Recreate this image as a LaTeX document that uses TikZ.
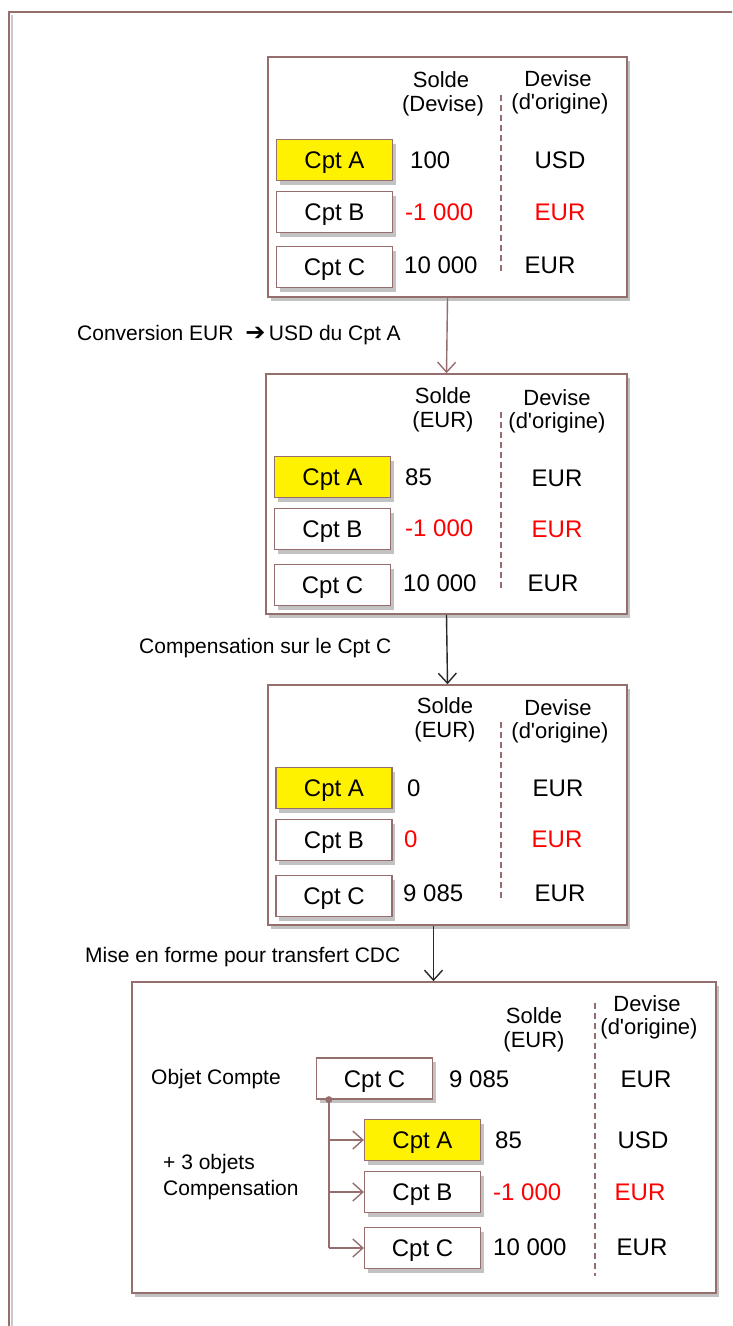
\documentclass[tikz,border=0pt]{standalone}
\usepackage{fontspec}
\setmainfont{Liberation Sans}
\newfontfamily\djv{DejaVu Sans}
\usetikzlibrary{arrows.meta,shadows}
\definecolor{bord}{RGB}{150,110,110}
\definecolor{shd}{RGB}{120,120,120}
\definecolor{dark}{RGB}{40,40,40}
\newcommand{\orig}{(d\textquotesingle origine)}
\tikzset{
  shad/.style={drop shadow={shadow xshift=3pt,shadow yshift=-4pt,fill=shd,opacity=0.45}},
  panel/.style={draw=bord,line width=1.6pt,fill=white,shad,inner sep=0pt},
  cpt/.style={draw=bord,line width=1.3pt,fill=white,minimum width=116pt,minimum height=41pt,inner sep=0pt,text height=17pt,text depth=0pt,font=\fontsize{24}{27}\selectfont,shad},
  cpta/.style={cpt,fill=yellow},
  hdr/.style={font=\fontsize{22}{25}\selectfont,inner sep=0pt},
  val/.style={font=\fontsize{24}{27}\selectfont,anchor=west,inner sep=0pt},
  cur/.style={font=\fontsize{24}{27}\selectfont,inner sep=0pt},
  red/.style={text=red},
  lbl/.style={font=\fontsize{21}{24}\selectfont,anchor=west,inner sep=0pt},
  sep/.style={draw=bord,line width=1.3pt,dash pattern=on 6pt off 4pt},
  flow/.style={line width=1.4pt,-{Straight Barb[length=10pt,width=18pt,line width=1.4pt]}},
  branch/.style={draw=bord,line width=1.6pt},
}
\begin{document}
\begin{tikzpicture}[x=1pt,y=-1pt]
\useasboundingbox (0,0) rectangle (732,1326);
\clip (0,0) rectangle (732,1326);
\fill[white] (0,0) rectangle (732,1326);
% outer frame
\draw[shd!40,line width=2pt] (12,15) -- (12,1340);
\draw[bord,line width=2pt] (9,1340) -- (9,12) -- (750,12);

% ===== Panel 1 =====
\node[panel,minimum width=359pt,minimum height=240pt] (p1) at (447.5,177) {};
\node[hdr] (p1s1) at (441,80) {Solde};
\node[hdr] (p1s2) at (443,106) {(Devise)};
\node[hdr] (p1d1) at (558,79) {Devise};
\node[hdr] (p1d2) at (560,104) {\orig};
\draw[sep] (501,95) -- (501,272);
\node[cpta] (p1a) at (334.5,160) {Cpt A};
\node[cpt] (p1b) at (334.5,212) {Cpt B};
\node[cpt] (p1c) at (334.5,267) {Cpt C};
\node[val] (p1av) at (410,160) {100};
\node[val,red] (p1bv) at (405,212) {-1 000};
\node[val] (p1cv) at (404,265) {10 000};
\node[cur] (p1ad) at (560,160) {USD};
\node[cur,red] (p1bd) at (560,212) {EUR};
\node[cur] (p1cd) at (550,265) {EUR};

% ===== Panel 2 =====
\node[panel,minimum width=361pt,minimum height=240pt] (p2) at (446.5,494) {};
\node[hdr] (p2s1) at (443,396) {Solde};
\node[hdr] (p2s2) at (443,422) {(EUR)};
\node[hdr] (p2d1) at (557,398) {Devise};
\node[hdr] (p2d2) at (557,423) {\orig};
\draw[sep] (501,412) -- (501,590);
\node[cpta] (p2a) at (332.5,477) {Cpt A};
\node[cpt] (p2b) at (332.5,529) {Cpt B};
\node[cpt] (p2c) at (332.5,585) {Cpt C};
\node[val] (p2av) at (405,477) {85};
\node[val,red] (p2bv) at (405,528) {-1 000};
\node[val] (p2cv) at (403,583) {10 000};
\node[cur] (p2ad) at (557,478) {EUR};
\node[cur,red] (p2bd) at (557,529) {EUR};
\node[cur] (p2cd) at (553,583) {EUR};

% ===== Panel 3 =====
\node[panel,minimum width=359pt,minimum height=240pt] (p3) at (447.5,805) {};
\node[hdr] (p3s1) at (445,706) {Solde};
\node[hdr] (p3s2) at (445,732) {(EUR)};
\node[hdr] (p3d1) at (558,708) {Devise};
\node[hdr] (p3d2) at (560,733) {\orig};
\draw[sep] (501,722) -- (501,900);
\node[cpta] (p3a) at (334,788) {Cpt A};
\node[cpt] (p3b) at (334,840) {Cpt B};
\node[cpt] (p3c) at (334,896) {Cpt C};
\node[val] (p3av) at (407,788) {0};
\node[val,red] (p3bv) at (404,839) {0};
\node[val] (p3cv) at (403,893) {9 085};
\node[cur] (p3ad) at (558,788) {EUR};
\node[cur,red] (p3bd) at (557,839) {EUR};
\node[cur] (p3cd) at (560,893) {EUR};

% ===== Panel 4 =====
\node[panel,minimum width=584pt,minimum height=311pt] (p4) at (424,1137.5) {};
\node[hdr] (p4s1) at (534,1016) {Solde};
\node[hdr] (p4s2) at (534,1042) {(EUR)};
\node[hdr] (p4d1) at (647,1004) {Devise};
\node[hdr] (p4d2) at (649,1029) {\orig};
\draw[sep] (595,1003) -- (595,1276);
\node[lbl] (obj) at (151,1079) {Objet Compte};
\node[lbl] (plus1) at (163,1164) {+ 3 objets};
\node[lbl] (plus2) at (163,1190) {Compensation};
\node[cpt] (p4o) at (374.5,1078.5) {Cpt C};
\node[cpta] (p4a) at (422.5,1140) {Cpt A};
\node[cpt] (p4b) at (422.5,1192) {Cpt B};
\node[cpt] (p4c) at (422.5,1248) {Cpt C};
\node[val] (p4ov) at (449,1079) {9 085};
\node[val] (p4av) at (495,1140) {85};
\node[val,red] (p4bv) at (493,1192) {-1 000};
\node[val] (p4cv) at (493,1247) {10 000};
\node[cur] (p4od) at (646,1079) {EUR};
\node[cur] (p4ad) at (643,1140) {USD};
\node[cur,red] (p4bd) at (640,1192) {EUR};
\node[cur] (p4cd) at (642,1247) {EUR};
\coordinate (dot) at ([xshift=13pt]p4o.south west);
\draw[branch] (dot) -- (dot |- p4c.west);
\draw[branch,flow,bord] (dot |- p4a.west) -- (p4a.west);
\draw[branch,flow,bord] (dot |- p4b.west) -- (p4b.west);
\draw[branch,flow,bord] (dot |- p4c.west) -- (p4c.west);
\fill[bord] (dot) circle (3.5pt);

% ===== Flow arrows and labels =====
\draw[flow,bord] (p1.south) -- (p2.north);
\draw[flow,dark] (p2.south) -- (p3.north);
\draw[flow,dark] ([xshift=-14pt]p3.south) -- ([xshift=-14pt]p3.south |- p4.north);
\node[lbl] (l1) at (77,335) {Conversion EUR \ {\djv\fontsize{24}{26}\selectfont ➔}\,USD du Cpt A};
\node[lbl] (l2) at (139,648) {Compensation sur le Cpt C};
\node[lbl] (l3) at (85,957) {Mise en forme pour transfert CDC};
\end{tikzpicture}
\end{document}
